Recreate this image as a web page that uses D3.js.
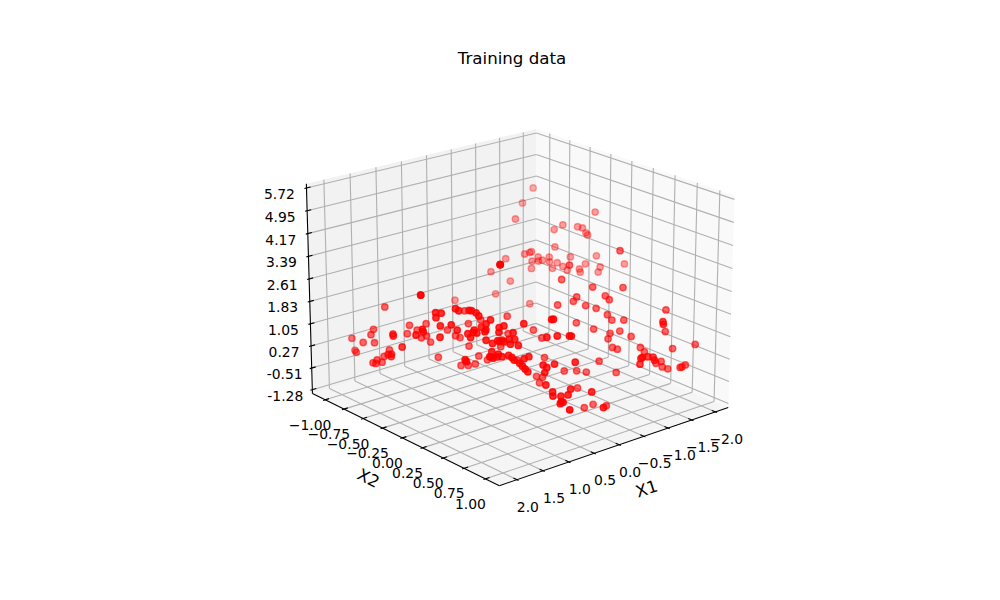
<!DOCTYPE html>
<html><head><meta charset="utf-8"><style>html,body{margin:0;background:#fff}</style>
<script src="https://cdn.jsdelivr.net/npm/d3@7"></script></head><body><svg id="c" width="1000" height="600"></svg>
<script>
// Training samples: two inputs and the observed target.
const x1Values=[-1.91,-1.70,-0.74,-1.73,-1.30,-1.17,-1.47,-1.52,
-1.54,-1.56,-1.12,-0.82,-0.80,-0.73,-0.49,0.75,
0.75,0.75,-0.27,-0.47,-0.25,-0.89,-0.80,-0.77,
-0.88,-0.93,-1.02,-1.01,-1.02,-1.10,-1.15,-0.63,
-1.19,-1.27,-1.34,-1.34,-1.43,-1.59,-1.28,-1.90,
-1.60,-1.56,-0.49,-0.83,-1.19,-0.61,-0.56,-0.95,
-0.98,-0.62,-0.36,-0.69,-0.80,-1.62,-0.91,-0.95,
-1.09,-1.17,-1.16,-1.54,-0.52,-0.70,-1.01,-0.88,
0.19,0.17,-0.84,-1.12,-0.86,-0.91,-1.19,-1.57,
-1.84,-1.22,-0.76,-0.71,-0.87,-0.96,-0.99,-1.32,
-1.39,-0.71,-1.38,-1.44,-1.55,-1.57,-1.66,0.21,
-0.66,-0.21,-0.36,-0.47,-0.82,0.45,-0.03,0.59,
0.55,0.59,0.06,0.13,0.12,0.62,-0.31,0.35,
0.40,0.57,0.58,0.49,0.12,0.50,0.48,0.52,
0.66,-0.33,-0.44,0.04,-0.59,0.27,1.04,0.67,
0.34,0.32,0.91,0.97,0.99,0.83,0.32,0.01,
0.89,0.83,0.98,1.01,0.96,1.10,0.90,0.81,
-0.06,0.45,0.33,0.45,1.13,1.16,1.09,1.03,
0.95,0.92,0.91,0.30,0.78,0.72,0.85,0.83,
0.81,0.79,0.27,1.65,1.59,1.66,1.64,1.51,
1.02,1.26,1.68,1.22,1.41,1.38,0.76,1.26,
1.23,1.19,1.17,0.60,1.11,0.75,1.46,0.94,
0.90,1.26,1.35,1.33,1.28,1.24,1.13,1.17,
1.15,1.16,1.03,0.82,0.74,1.17,0.65,1.14,
1.07,1.47,1.46,0.98,0.90,0.81,1.76,1.76,
1.68,1.89,1.94,2.00,1.99,1.92,1.98,1.99,
1.45,1.51,1.38,1.95,1.86,1.86,1.25,1.36,
1.29,1.99,1.77,1.99,2.00,1.99,1.86,1.98,
2.00,1.99,1.90,1.99,1.98];
const x2Values=[-0.99,-1.00,-0.51,-0.12,-0.26,-0.29,-0.18,-0.15,
-0.12,-0.11,-0.25,-0.36,-0.37,-0.39,-0.48,0.21,
0.21,0.21,-0.53,-0.41,-0.46,-0.32,-0.34,-0.33,
-0.31,-0.29,-0.26,-0.25,-0.22,-0.21,-0.17,0.21,
-0.14,-0.15,-0.08,-0.07,-0.06,-0.02,0.43,0.14,
0.02,0.02,0.20,0.37,0.52,0.31,0.30,0.45,
0.48,-0.26,0.23,0.37,0.43,0.78,0.50,0.53,
0.59,0.99,1.00,0.82,0.36,0.46,0.59,0.55,
0.69,0.70,0.55,0.66,0.59,0.62,0.73,0.89,
1.00,0.76,0.99,1.00,0.99,1.00,1.00,0.84,
0.86,0.99,0.88,0.91,0.99,1.00,0.99,0.77,
0.55,0.40,0.46,0.51,0.66,0.67,0.27,0.62,
0.64,0.64,0.30,0.27,0.30,0.67,0.50,0.80,
0.80,0.72,0.73,0.77,0.91,0.78,0.79,0.78,
0.97,0.57,0.61,1.00,0.68,0.00,0.27,0.44,
0.57,0.58,0.35,0.33,0.34,0.41,0.04,0.16,
0.40,0.43,0.37,0.36,0.38,0.33,0.42,0.46,
0.22,0.58,0.63,0.03,0.34,0.35,0.38,0.40,
0.43,0.45,0.47,0.14,0.51,0.53,0.50,0.52,
0.54,0.56,-0.65,-0.01,0.02,0.00,0.04,0.09,
-0.27,-0.33,0.06,-0.26,0.08,0.10,-0.22,0.15,
0.16,0.19,0.21,-0.12,0.26,-0.18,0.13,-0.22,
-0.19,0.21,0.19,0.21,0.21,0.23,0.27,0.24,
0.27,0.29,0.35,-0.13,-0.06,0.34,-0.01,0.36,
0.38,0.23,0.24,-0.13,-0.09,-0.06,-0.12,-0.12,
-0.63,-0.64,-0.64,-0.85,-0.71,-0.61,-0.33,-0.32,
-0.47,-0.46,-0.42,-0.06,-0.04,-0.03,-0.39,-0.38,
-0.36,-0.21,-0.52,-0.39,-0.34,-0.35,-0.53,-0.54,
-0.58,-0.55,-0.53,-0.82,-0.81];
const yValues=[4.08,3.62,3.99,4.20,3.80,3.66,3.74,3.71,
3.56,3.49,3.12,2.97,2.94,2.90,2.75,3.90,
3.90,3.90,2.34,2.05,1.65,2.80,2.67,2.44,
2.67,2.70,2.80,2.65,2.45,2.62,2.51,3.23,
2.39,2.81,2.43,2.33,2.59,2.84,3.66,2.59,
2.49,2.33,2.79,2.56,2.54,2.26,2.12,2.29,
2.18,1.35,2.01,1.99,1.91,1.86,1.72,1.55,
1.55,1.93,1.86,1.20,1.47,1.28,1.21,1.15,
1.78,1.78,0.98,1.05,0.72,0.67,0.72,0.68,
0.82,0.59,0.93,0.93,0.89,0.84,0.72,0.24,
0.29,0.72,0.13,0.07,0.16,0.18,0.19,1.00,
0.30,0.01,0.01,-0.03,-0.04,0.94,0.41,0.92,
0.84,0.69,-0.19,-0.16,-0.35,0.32,-0.51,0.20,
0.03,0.12,-0.00,-0.00,0.12,-0.17,-0.19,-0.23,
-0.11,-1.12,-1.01,-0.34,-1.05,1.67,2.25,2.14,
2.27,2.28,2.08,2.03,1.89,1.88,1.14,1.25,
1.68,1.68,1.66,1.61,1.61,1.56,1.54,1.50,
1.01,1.74,1.78,0.74,1.31,1.16,1.16,1.16,
1.20,1.14,1.07,0.33,1.10,1.16,0.97,0.89,
0.80,0.72,1.46,2.47,2.46,2.32,2.08,2.11,
1.25,0.88,1.74,0.42,2.59,2.53,1.84,2.54,
2.53,2.47,2.38,1.56,2.14,1.44,1.95,1.07,
1.02,1.95,1.85,1.73,1.88,1.86,1.96,2.04,
1.91,1.65,1.64,0.76,0.46,1.16,0.34,1.12,
1.24,1.08,1.02,0.17,0.18,0.22,2.99,2.99,
1.95,1.27,1.11,0.76,0.78,0.86,1.53,1.48,
1.39,1.14,1.25,1.81,1.98,1.91,1.44,1.02,
1.07,1.24,0.64,0.76,0.84,0.74,0.45,0.38,
0.24,0.25,0.27,0.37,0.31];

const x1Ticks=[-2,-1.5,-1,-0.5,0,0.5,1,1.5,2];
const x2Ticks=[-1,-0.75,-0.5,-0.25,0,0.25,0.5,0.75,1];
const yTicks=[-1.28,-0.51,0.27,1.05,1.83,2.61,3.39,4.17,4.95,5.72];
const x1Lim=[-2.28,2.33],x2Lim=[-1.17,1.16],yLim=[-1.42,5.86];

// Camera: elevation 20 degrees, azimuth 50 degrees, box aspect 4:4:3.
const elev=20*Math.PI/180,azim=50*Math.PI/180,dist=10,K=2620,cx=519,cy=296.5;
const Bx=1.143,By=1.143,Bz=0.857;
const sx=d3.scaleLinear().domain(x1Lim).range([0,Bx]);
const sy=d3.scaleLinear().domain(x2Lim).range([0,By]);
const sz=d3.scaleLinear().domain(yLim).range([0,Bz]);
const screenX=d3.scaleLinear().domain([-1,1]).range([cx-K,cx+K]);
const screenY=d3.scaleLinear().domain([-1,1]).range([cy+K,cy-K]);
const w=[Math.cos(elev)*Math.cos(azim),Math.cos(elev)*Math.sin(azim),Math.sin(elev)];
const E=[Bx/2+dist*w[0],By/2+dist*w[1],Bz/2+dist*w[2]];
const u=[-Math.sin(azim),Math.cos(azim),0];
const v=[w[1]*u[2]-w[2]*u[1],w[2]*u[0]-w[0]*u[2],w[0]*u[1]-w[1]*u[0]];
const dot=(a,b)=>a[0]*b[0]+a[1]*b[1]+a[2]*b[2];
function proj(x1,x2,y){
  const p=[sx(x1)-E[0],sy(x2)-E[1],sz(y)-E[2]];
  const d=-dot(w,p);
  return {x:screenX(dot(u,p)/d),y:screenY(dot(v,p)/d),depth:d};
}

const svg=d3.select('#c');
const [a0,a1]=x1Lim,[b0,b1]=x2Lim,[c0,c1]=yLim;

// Back panes
const panes=[
  {fill:'#f2f2f2',c:[[a1,b0,c0],[a0,b0,c0],[a0,b0,c1],[a1,b0,c1]]},
  {fill:'#f9f9f9',c:[[a0,b0,c0],[a0,b1,c0],[a0,b1,c1],[a0,b0,c1]]},
  {fill:'#f5f5f5',c:[[a0,b0,c0],[a1,b0,c0],[a1,b1,c0],[a0,b1,c0]]}];
svg.append('g').selectAll('polygon').data(panes).join('polygon')
  .attr('points',d=>d.c.map(q=>{const p=proj(...q);return p.x+','+p.y;}).join(' '))
  .attr('fill',d=>d.fill);

// Grid lines wrap around the panes, axis lines and ticks sit on the outer edges.
const segs=(sel,list,col)=>sel.selectAll('line').data(list).join('line')
  .attr('x1',d=>proj(...d[0]).x).attr('y1',d=>proj(...d[0]).y)
  .attr('x2',d=>proj(...d[1]).x).attr('y2',d=>proj(...d[1]).y)
  .attr('stroke',col).attr('stroke-width',1.1);
const gridSegs=[];
x1Ticks.forEach(t=>gridSegs.push([[t,b1,c0],[t,b0,c0]],[[t,b0,c0],[t,b0,c1]]));
x2Ticks.forEach(t=>gridSegs.push([[a1,t,c0],[a0,t,c0]],[[a0,t,c0],[a0,t,c1]]));
yTicks.forEach(t=>gridSegs.push([[a1,b0,t],[a0,b0,t]],[[a0,b0,t],[a0,b1,t]]));
segs(svg.append('g'),gridSegs,'#b0b0b0');
const dx1=(a1-a0)/12,dx2=(b1-b0)/12;
const axisSegs=[[[a1,b1,c0],[a0,b1,c0]],[[a1,b0,c0],[a1,b1,c0]],[[a1,b0,c0],[a1,b0,c1]]];
x1Ticks.forEach(t=>axisSegs.push([[t,b1+0.1*dx2,c0],[t,b1-0.2*dx2,c0]]));
x2Ticks.forEach(t=>axisSegs.push([[a1+0.1*dx1,t,c0],[a1-0.2*dx1,t,c0]]));
yTicks.forEach(t=>axisSegs.push([[a1+0.1*dx1,b0,t],[a1-0.2*dx1,b0,t]]));
segs(svg.append('g'),axisSegs,'#000');

// Text
const text=(s,x,y,fs,rot)=>svg.append('text').text(s).attr('x',x).attr('y',y)
  .attr('font-family','DejaVu Sans').attr('font-size',fs).attr('text-anchor','middle')
  .attr('dominant-baseline','central').attr('fill','#000')
  .attr('transform',rot?`rotate(${rot} ${x} ${y})`:null);
const minus=s=>s.replace('-','\u2212');
x1Ticks.forEach(t=>{const p=proj(t,b1,c0);text(minus(t.toFixed(1)),p.x+11,p.y+27,13.9);});
x2Ticks.forEach(t=>{const p=proj(a1,t,c0);text(minus(t.toFixed(2)),p.x-15,p.y+25,13.9);});
yTicks.forEach(t=>{const p=proj(a1,b0,t);text(t.toFixed(2),p.x-27,p.y+6,13.9);});
text('Training data',512,58,16.67);
text('X1',646.7,489,16.67,-18);
text('X2',368.3,478.3,16.67,27);

// Samples: painted far to near, fading with distance from the viewer.
const samples=x1Values.map((x,i)=>({...proj(x,x2Values[i],yValues[i])}));
const [dmin,dmax]=d3.extent(samples,d=>d.depth);
const fade=d3.scaleLinear().domain([dmax,dmin]).range([0.05,0.9]);
const alpha=d=>Math.max(0.3,fade(d.depth));
samples.sort((p,q)=>q.depth-p.depth);
svg.append('g').selectAll('circle').data(samples).join('circle')
  .attr('cx',d=>d.x).attr('cy',d=>d.y).attr('r',3.2)
  .attr('fill','#f00').attr('fill-opacity',alpha)
  .attr('stroke','#f00').attr('stroke-opacity',alpha).attr('stroke-width',1.39);
</script></body></html>
